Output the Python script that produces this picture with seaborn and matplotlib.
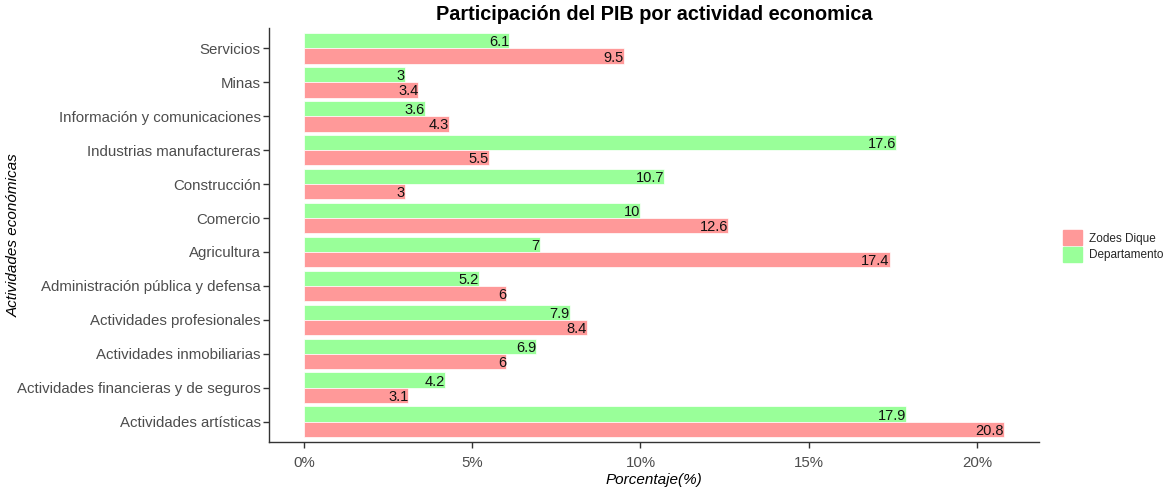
import matplotlib.pyplot as plt
import matplotlib.patches as mpatches
from matplotlib.ticker import FuncFormatter
import seaborn as sns
import pandas as pd

actividades = ['Servicios', 'Minas', 'Información y comunicaciones',
               'Industrias manufactureras', 'Construcción', 'Comercio',
               'Agricultura', 'Administración pública y defensa',
               'Actividades profesionales', 'Actividades inmobiliarias',
               'Actividades financieras y de seguros', 'Actividades artísticas']
departamento = [6.1, 3, 3.6, 17.6, 10.7, 10, 7, 5.2, 7.9, 6.9, 4.2, 17.9]
zodes_dique = [9.5, 3.4, 4.3, 5.5, 3, 12.6, 17.4, 6, 8.4, 6, 3.1, 20.8]
x_ticks = [0, 5, 10, 15, 20]

df = pd.DataFrame({
    'Actividad': actividades * 2,
    'Valor': departamento + zodes_dique,
    'Zona': ['Departamento'] * len(actividades) + ['Zodes Dique'] * len(actividades),
})

colores = {'Zodes Dique': '#FF9999', 'Departamento': '#99FF99'}

sns.set_style('white')
plt.rcParams['font.family'] = ['Liberation Sans', 'DejaVu Sans']

fig = plt.figure(figsize=(11.63, 4.92), dpi=100)
ax = fig.add_axes([0.2313, 0.1016, 0.662, 0.8414])

sns.barplot(data=df, y='Actividad', x='Valor', hue='Zona',
            hue_order=['Departamento', 'Zodes Dique'], order=actividades,
            palette=colores, saturation=1, width=0.9, orient='h', ax=ax,
            edgecolor='white', linewidth=0.5, legend=False)

# etiquetas de valor pegadas al final de cada barra
for cont in ax.containers:
    textos = ax.bar_label(cont, labels=[f'{b.get_width():g}' for b in cont],
                          padding=0, fontsize=10.5, color='#111111')
    for t in textos:
        t.set_ha('right')
        t.set_va('center_baseline')

ax.set_xlim(-1.04, 21.84)
ax.set_ylim(11.6, -0.6)
ax.set_xticks(x_ticks)
ax.xaxis.set_major_formatter(FuncFormatter(lambda v, _: f'{v:g}%'))

for s in ['top', 'right']:
    ax.spines[s].set_visible(False)
for s in ['left', 'bottom']:
    ax.spines[s].set_color('#333333')
    ax.spines[s].set_linewidth(1.0)

ax.tick_params(axis='both', which='major', length=4, width=1, color='#333333',
               labelcolor='#4D4D4D', labelsize=10.8, bottom=True, left=True)
ax.tick_params(axis='x', pad=6)
ax.tick_params(axis='y', pad=2)

ax.set_title('Participación del PIB por actividad economica',
             fontsize=14.3, fontweight='bold', pad=6, color='black')
ax.set_xlabel('Porcentaje(%)', fontsize=11, style='italic', labelpad=2,
              color='black')
ax.set_ylabel('Actividades económicas', fontsize=11, style='italic',
              color='black')
ax.yaxis.set_label_coords(-0.322, 0.5)

handles = [mpatches.Patch(color=colores['Zodes Dique'], label='Zodes Dique'),
           mpatches.Patch(color=colores['Departamento'], label='Departamento')]
fig.legend(handles=handles, loc='center left', bbox_to_anchor=(0.905, 0.5),
           frameon=False, fontsize=8.5, handlelength=1.6, handleheight=1.6,
           handletextpad=0.6, labelspacing=0.1)

fig.savefig('out.png', dpi=100)
